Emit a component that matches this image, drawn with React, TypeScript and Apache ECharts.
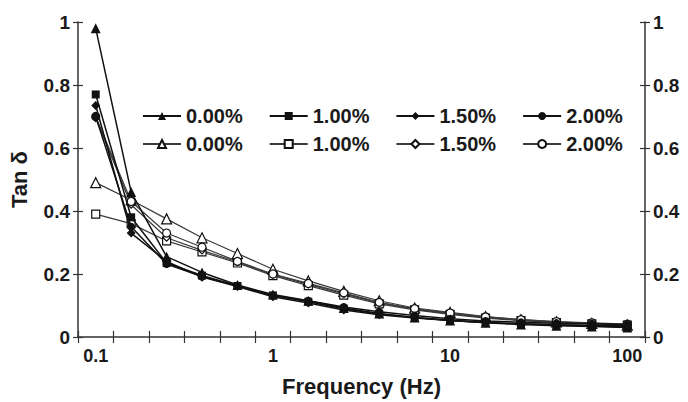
import React, { useEffect, useRef } from "react";
import * as echarts from "echarts";

// Frequency sweep points (Hz), five per decade
const frequencies = [
  "0.1", "0.158", "0.251", "0.398", "0.631",
  "1", "1.58", "2.51", "3.98", "6.31",
  "10", "15.8", "25.1", "39.8", "63.1", "100",
];
const xTickLabels = ["0.1", "1", "10", "100"];

// Tan δ, solid-marker set
const solid000 = [0.98, 0.46, 0.255, 0.205, 0.165, 0.135, 0.115, 0.092, 0.075, 0.062, 0.052, 0.045, 0.04, 0.036, 0.033, 0.03];
const solid100 = [0.77, 0.38, 0.235, 0.195, 0.162, 0.132, 0.112, 0.09, 0.073, 0.062, 0.053, 0.046, 0.041, 0.038, 0.035, 0.032];
const solid150 = [0.735, 0.33, 0.24, 0.19, 0.16, 0.128, 0.108, 0.086, 0.071, 0.06, 0.052, 0.046, 0.042, 0.039, 0.037, 0.035];
const solid200 = [0.7, 0.35, 0.232, 0.192, 0.163, 0.132, 0.115, 0.095, 0.08, 0.068, 0.058, 0.051, 0.047, 0.044, 0.042, 0.04];

// Tan δ, open-marker set
const open000 = [0.49, 0.435, 0.375, 0.315, 0.265, 0.215, 0.178, 0.145, 0.115, 0.092, 0.078, 0.065, 0.055, 0.048, 0.043, 0.038];
const open100 = [0.39, 0.36, 0.305, 0.27, 0.235, 0.195, 0.163, 0.133, 0.105, 0.086, 0.072, 0.06, 0.052, 0.046, 0.042, 0.038];
const open150 = [0.695, 0.42, 0.315, 0.275, 0.238, 0.198, 0.167, 0.137, 0.108, 0.088, 0.074, 0.062, 0.053, 0.047, 0.043, 0.039];
const open200 = [0.7, 0.43, 0.33, 0.285, 0.24, 0.2, 0.17, 0.14, 0.11, 0.09, 0.076, 0.064, 0.055, 0.049, 0.045, 0.041];

const yTicks = { min: 0, max: 1, interval: 0.2 };

const FONT = '"Liberation Sans", Arial, sans-serif';
const INK = "#1a1a1a";
const AXIS = "#333";

type SeriesDef = {
  name: string;
  data: number[];
  symbol: string;
  size: number;
  open: boolean;
};

const seriesDefs: SeriesDef[] = [
  { name: "0.00% solid", data: solid000, symbol: "triangle", size: 10, open: false },
  { name: "1.00% solid", data: solid100, symbol: "rect", size: 8, open: false },
  { name: "1.50% solid", data: solid150, symbol: "diamond", size: 9, open: false },
  { name: "2.00% solid", data: solid200, symbol: "circle", size: 8, open: false },
  { name: "0.00% open", data: open000, symbol: "triangle", size: 10, open: true },
  { name: "1.00% open", data: open100, symbol: "rect", size: 8, open: true },
  { name: "1.50% open", data: open150, symbol: "diamond", size: 7, open: true },
  { name: "2.00% open", data: open200, symbol: "circle", size: 8, open: true },
];

export default function App() {
  const ref = useRef<HTMLDivElement>(null);

  useEffect(() => {
    if (!ref.current) return;
    const chart = echarts.init(ref.current, null, { renderer: "svg" });

    const labelStyle = { fontFamily: FONT, fontWeight: "bold" as const, fontSize: 19, color: INK };

    const yBase = {
      type: "value" as const,
      ...yTicks,
      splitLine: { show: false },
      axisLine: { show: true, lineStyle: { color: AXIS, width: 1.5 } },
    };

    const legendBase = {
      orient: "horizontal" as const,
      left: 137,
      itemWidth: 38,
      itemHeight: 10,
      itemGap: 26,
      textStyle: { ...labelStyle, fontSize: 20, padding: [0, 0, 0, 0] },
      formatter: (name: string) => name.split(" ")[0],
    };

    chart.setOption({
      animation: false,
      backgroundColor: "#fff",
      grid: { left: 77, right: 43, top: 22, bottom: 65 },
      legend: [
        { ...legendBase, top: 101, data: seriesDefs.filter((s) => !s.open).map((s) => s.name) },
        { ...legendBase, top: 129, data: seriesDefs.filter((s) => s.open).map((s) => s.name) },
      ],
      xAxis: [
        {
          type: "category",
          data: frequencies,
          boundaryGap: true,
          name: "Frequency (Hz)",
          nameLocation: "middle",
          nameGap: 38,
          nameTextStyle: { fontFamily: FONT, fontWeight: "bold", fontSize: 22, color: INK },
          axisLine: { show: true, lineStyle: { color: AXIS, width: 1.5 } },
          axisTick: { show: true, interval: 0, length: 6, lineStyle: { color: AXIS, width: 1.2 } },
          axisLabel: {
            ...labelStyle,
            fontSize: 18,
            interval: 0,
            margin: 10,
            formatter: (v: string) => (xTickLabels.includes(v) ? v : ""),
          },
          splitLine: { show: false },
        },
        {
          type: "category",
          data: frequencies,
          boundaryGap: true,
          position: "bottom",
          axisLine: { show: false },
          axisTick: { show: true, inside: true, interval: 0, length: 6, lineStyle: { color: AXIS, width: 1.2 } },
          axisLabel: { show: false },
          splitLine: { show: false },
        },
      ],
      yAxis: [
        {
          ...yBase,
          position: "left",
          name: "Tan δ",
          nameLocation: "middle",
          nameGap: 48,
          nameTextStyle: { fontFamily: FONT, fontWeight: "bold", fontSize: 22, color: INK },
          axisTick: { show: true, length: 5, lineStyle: { color: AXIS, width: 1.2 } },
          axisLabel: { ...labelStyle, margin: 8, align: "right" },
        },
        {
          ...yBase,
          position: "left",
          axisLine: { show: false },
          axisTick: { show: true, inside: true, length: 5, lineStyle: { color: AXIS, width: 1.2 } },
          axisLabel: { show: false },
        },
        {
          ...yBase,
          position: "right",
          axisTick: { show: true, length: 5, lineStyle: { color: AXIS, width: 1.2 } },
          axisLabel: { ...labelStyle, margin: 8, align: "left" },
        },
        {
          ...yBase,
          position: "right",
          axisLine: { show: false },
          axisTick: { show: true, inside: true, length: 5, lineStyle: { color: AXIS, width: 1.2 } },
          axisLabel: { show: false },
        },
      ],
      series: seriesDefs.map((s) => ({
        name: s.name,
        type: "line",
        xAxisIndex: 0,
        yAxisIndex: 0,
        data: s.data,
        symbol: s.symbol,
        symbolSize: s.size,
        showAllSymbol: true,
        lineStyle: { color: s.open ? "#3a3a3a" : "#111", width: s.open ? 1.2 : 1.5 },
        itemStyle: s.open
          ? { color: "#fff", borderColor: "#111", borderWidth: 1.2 }
          : { color: "#111", borderColor: "#111", borderWidth: 0 },
        emphasis: { disabled: true },
        z: s.open ? 2 : 3,
      })),
    });

    return () => chart.dispose();
  }, []);

  return (
    <div
      ref={ref}
      style={{ position: "fixed", left: 0, top: 0, width: 688, height: 402, background: "#fff" }}
    />
  );
}
